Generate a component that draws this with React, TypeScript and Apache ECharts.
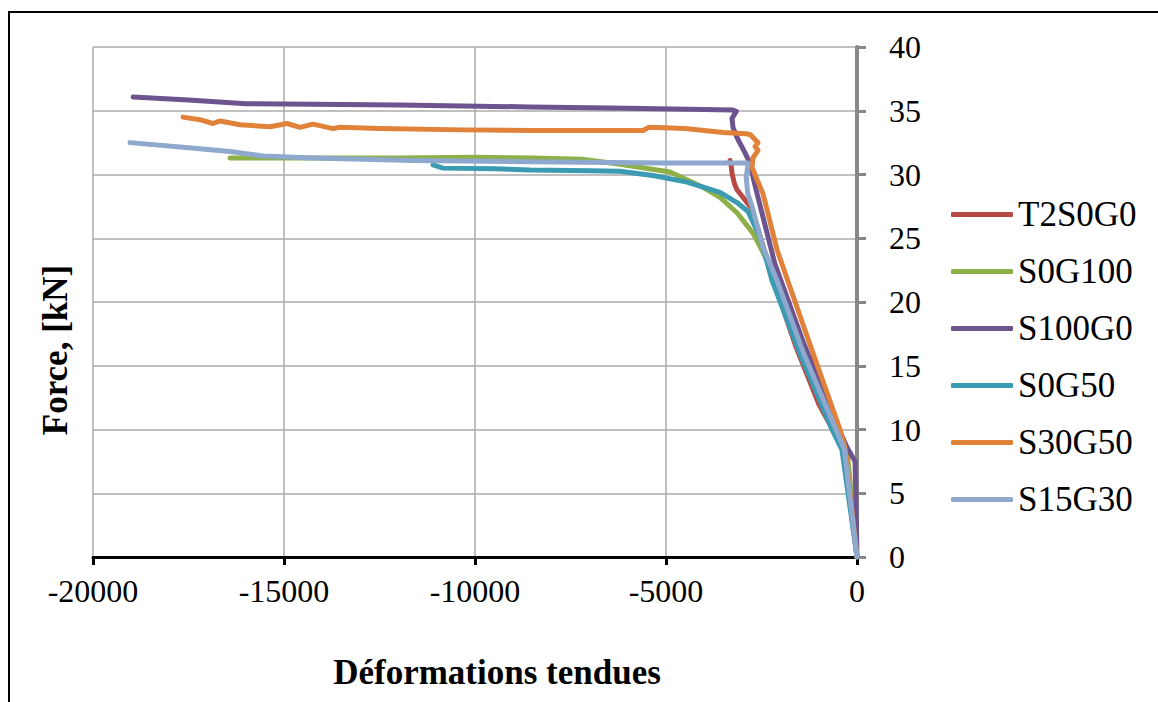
import React, { useEffect, useRef } from "react";
import * as echarts from "echarts";

const xTicks = { min: -20000, max: 0, interval: 5000 };
const yTicks = { min: 0, max: 40, interval: 5 };

const seriesNames = ["T2S0G0", "S0G100", "S100G0", "S0G50", "S30G50", "S15G30"];
const seriesColors = ["#B84A45", "#8DB049", "#6D548F", "#3B9BB2", "#E0823A", "#8EA8CE"];

const T2S0G0: [number, number][] = [
  [-3324, 31.1], [-3290, 30.6], [-3272, 30.1], [-3210, 29.3], [-3141, 28.8], [-2880, 27.8],
  [-2749, 27.3], [-2600, 25.8], [-2200, 21.8], [-1600, 16.5], [-1000, 12.0], [-600, 9.8],
  [-350, 8.3], [0, 0],
];
const S0G100: [number, number][] = [
  [-16414, 31.3], [-14000, 31.3], [-12000, 31.3], [-10000, 31.35], [-8500, 31.3], [-7200, 31.2],
  [-6200, 30.8], [-4895, 30.2], [-4031, 29.0], [-3586, 28.2], [-3141, 27.0], [-2723, 25.4],
  [-2356, 23.3], [-2199, 21.7], [-1400, 15.6], [-576, 10.0], [-262, 8.5], [0, 0],
];
const S100G0: [number, number][] = [
  [-18950, 36.08], [-17500, 35.85], [-16000, 35.55], [-12000, 35.45], [-8560, 35.3], [-6000, 35.2],
  [-4000, 35.1], [-3250, 35.05], [-3160, 34.95], [-3272, 34.4], [-3246, 33.7], [-3141, 32.9],
  [-2932, 31.7], [-2801, 30.9], [-2723, 29.8], [-2600, 28.3], [-2150, 23.0], [-1400, 16.8],
  [-500, 10.2], [-262, 8.6], [-52, 7.5], [-25, 4.0], [0, 0],
];
const S0G50: [number, number][] = [
  [-11099, 30.75], [-10838, 30.5], [-9500, 30.45], [-8560, 30.35], [-7000, 30.3], [-6204, 30.25],
  [-5300, 29.9], [-4450, 29.4], [-3586, 28.6], [-3141, 27.8], [-2853, 27.1], [-2539, 25.1],
  [-2225, 21.7], [-1500, 16.0], [-654, 10.0], [-393, 8.4], [0, 0],
];
const S30G50: [number, number][] = [
  [-17644, 34.5], [-17200, 34.3], [-16859, 34.0], [-16675, 34.2], [-16152, 33.9], [-15366, 33.75],
  [-14921, 34.0], [-14581, 33.7], [-14241, 33.95], [-13717, 33.6], [-13534, 33.7], [-12487, 33.6],
  [-10314, 33.5], [-8560, 33.45], [-7000, 33.45], [-5600, 33.45], [-5450, 33.7], [-4500, 33.6],
  [-3500, 33.3], [-2900, 33.2], [-2780, 33.1], [-2723, 32.9], [-2592, 32.5], [-2670, 32.2],
  [-2592, 31.9], [-2723, 31.3], [-2749, 30.6], [-2618, 29.6], [-2461, 28.5], [-2094, 24.1],
  [-1270, 17.0], [-445, 10.0], [-314, 8.6], [0, 0],
];
const S15G30: [number, number][] = [
  [-19031, 32.5], [-17500, 32.1], [-16414, 31.8], [-15550, 31.45], [-14241, 31.3], [-11623, 31.1],
  [-8560, 31.0], [-5000, 30.9], [-2853, 30.9], [-2870, 30.4], [-2900, 29.8], [-2860, 28.5],
  [-2749, 27.5], [-2461, 24.3], [-2094, 21.7], [-1400, 16.0], [-550, 10.0], [-330, 8.4], [0, 0],
];

const seriesData = [T2S0G0, S0G100, S100G0, S0G50, S30G50, S15G30];

const xTitle = "Déformations tendues";
const yTitle = "Force, [kN]";

export default function App() {
  const ref = useRef<HTMLDivElement>(null);
  useEffect(() => {
    if (!ref.current) return;
    const chart = echarts.init(ref.current, undefined, { renderer: "svg" });
    const font = "'Liberation Serif', 'Times New Roman', serif";
    chart.setOption({
      animation: false,
      backgroundColor: "#ffffff",
      grid: { left: 93, top: 47, width: 764, height: 510, containLabel: false },
      xAxis: {
        type: "value",
        min: xTicks.min,
        max: xTicks.max,
        interval: xTicks.interval,
        axisLine: { show: true, onZero: false, lineStyle: { color: "#000", width: 3 } },
        axisTick: { show: true, length: 8, lineStyle: { color: "#000", width: 3 } },
        splitLine: { show: true, lineStyle: { color: "#ABABAB", width: 1.5 } },
        axisLabel: {
          color: "#000",
          fontFamily: font,
          fontSize: 32,
          margin: 18,
          formatter: (v: number) => String(v),
        },
      },
      yAxis: {
        type: "value",
        position: "right",
        min: yTicks.min,
        max: yTicks.max,
        interval: yTicks.interval,
        axisLine: { show: true, onZero: false, lineStyle: { color: "#888888", width: 4 } },
        axisTick: { show: true, length: 9, lineStyle: { color: "#888888", width: 3 } },
        splitLine: { show: true, lineStyle: { color: "#ABABAB", width: 1.5 } },
        axisLabel: {
          color: "#000",
          fontFamily: font,
          fontSize: 32,
          margin: 32,
          formatter: (v: number) => String(v),
        },
      },
      legend: {
        orient: "vertical",
        left: 946,
        top: 192,
        icon: "roundRect",
        itemWidth: 62,
        itemHeight: 5,
        itemGap: 22,
        textStyle: { color: "#000", fontFamily: font, fontSize: 35, lineHeight: 35 },
        data: seriesNames,
      },
      series: seriesNames.map((name, i) => ({
        name,
        type: "line",
        data: seriesData[i],
        showSymbol: false,
        symbol: "none",
        color: seriesColors[i],
        lineStyle: { color: seriesColors[i], width: 5, cap: "round", join: "round" },
        itemStyle: { color: seriesColors[i] },
      })),
      graphic: [
        {
          type: "polyline",
          shape: { points: [[9, 702], [9, 12], [1158, 12]] },
          style: { stroke: "#000", lineWidth: 2, fill: "none" },
        },
        {
          type: "text",
          x: 497,
          y: 672,
          style: {
            text: xTitle,
            font: `bold 35px ${font}`,
            fill: "#000",
            textAlign: "center",
            textVerticalAlign: "middle",
          },
        },
        {
          type: "text",
          x: 55,
          y: 350,
          rotation: Math.PI / 2,
          style: {
            text: yTitle,
            font: `bold 35px ${font}`,
            fill: "#000",
            textAlign: "center",
            textVerticalAlign: "middle",
          },
        },
      ],
    });
    return () => chart.dispose();
  }, []);
  return (
    <div
      ref={ref}
      style={{ position: "absolute", left: 0, top: 0, width: 1158, height: 702, background: "#fff" }}
    />
  );
}
